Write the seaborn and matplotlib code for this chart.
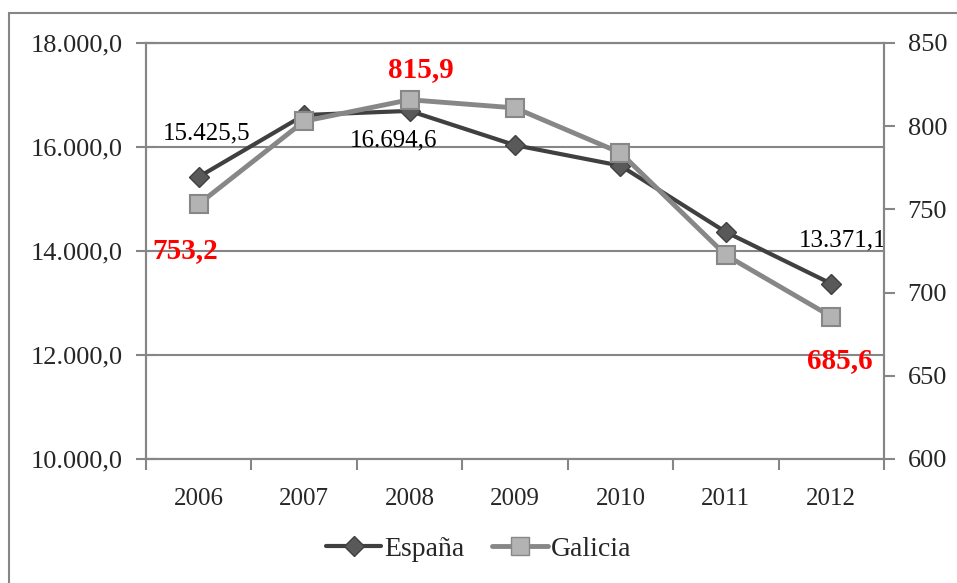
import numpy as np
import matplotlib
matplotlib.use("Agg")
import matplotlib.pyplot as plt
import seaborn as sns
from matplotlib.patches import Rectangle
from matplotlib.lines import Line2D
from matplotlib.ticker import FuncFormatter, FixedLocator

# Datos
anios = ["2006", "2007", "2008", "2009", "2010", "2011", "2012"]
espana = [15425.5, 16615.0, 16694.6, 16035.0, 15640.0, 14365.0, 13371.1]
galicia = [753.2, 803.0, 815.9, 811.0, 784.0, 722.5, 685.6]

# Etiquetas: (indice, texto, desplazamiento en px)
etiq_espana = [(0, "15.425,5", (8, 43)), (2, "16.694,6", (-16, -30)), (6, "13.371,1", (11, 43))]
etiq_galicia = [(0, "753,2", (-13, -46)), (2, "815,9", (11, 30)), (6, "685,6", (9, -44))]

sns.set_theme(style="white")
plt.rcParams["font.family"] = ["Liberation Serif", "DejaVu Serif"]

gris = "#868686"
fig = plt.figure(figsize=(9.57, 5.83), dpi=100)
ax = fig.add_axes([146 / 957, 1 - 459 / 583, (884 - 146) / 957, (459 - 43) / 583])
ax2 = ax.twinx()

x = np.arange(len(anios))
sns.lineplot(x=x, y=espana, ax=ax, color="#404040", lw=3, marker="D", markersize=10,
             markerfacecolor="#595959", markeredgecolor="#404040", markeredgewidth=1, zorder=3)
sns.lineplot(x=x, y=galicia, ax=ax2, color="#878787", lw=3.5, marker="s", markersize=13,
             markerfacecolor="#B3B3B3", markeredgecolor="#878787", markeredgewidth=1.5, zorder=3)

ax.set_xlim(-0.5, len(anios) - 0.5)
ax.set_ylim(10000, 18000)
ax2.set_ylim(600, 850)
ax.set_yticks([10000, 12000, 14000, 16000, 18000])
ax2.set_yticks([600, 650, 700, 750, 800, 850])
ax.yaxis.set_major_formatter(FuncFormatter(lambda v, p: f"{v:,.1f}".replace(",", "X").replace(".", ",").replace("X", ".")))
ax.set_xticks(x)
ax.set_xticklabels(anios)
ax.xaxis.set_minor_locator(FixedLocator(np.arange(-0.5, len(anios), 1.0)))

ax.grid(axis="y", color=gris, lw=1.5)
ax.set_axisbelow(True)
for a in (ax, ax2):
    for s in a.spines.values():
        s.set_color(gris)
        s.set_linewidth(1.5)
ax.tick_params(axis="y", which="major", direction="inout", length=14, width=1.5, color=gris,
               labelsize=19, pad=10, left=True)
ax.tick_params(axis="x", which="major", length=0, labelsize=18, pad=21)
ax.tick_params(axis="x", which="minor", direction="out", length=8, width=1.5, color=gris, bottom=True)
ax2.tick_params(axis="y", direction="out", length=8, width=1.5, color=gris, labelsize=19, pad=9, right=True)
ax.set_xlabel("")
ax.set_ylabel("")

for i, txt, off in etiq_espana:
    ax.annotate(txt, xy=(i, espana[i]), xytext=off, textcoords="offset pixels",
                ha="center", va="center", fontsize=18, color="black")
for i, txt, off in etiq_galicia:
    ax2.annotate(txt, xy=(i, galicia[i]), xytext=off, textcoords="offset pixels",
                 ha="center", va="center", fontsize=21, color="#FF0000", fontweight="bold")

handles = [
    Line2D([], [], color="#404040", lw=3, marker="D", markersize=10,
           markerfacecolor="#595959", markeredgecolor="#404040"),
    Line2D([], [], color="#878787", lw=3.5, marker="s", markersize=13,
           markerfacecolor="#B3B3B3", markeredgecolor="#878787"),
]
fig.legend(handles, ["España", "Galicia"], loc="center", bbox_to_anchor=(0.5, 1 - 549 / 583),
           ncol=2, frameon=False, fontsize=20, handlelength=2.0, handletextpad=0.1, columnspacing=1.0)

# Marco exterior del gráfico
fig.patches.append(Rectangle((9 / 957, -0.1), 1.2, 1.1 - 13 / 583, transform=fig.transFigure,
                             fill=False, edgecolor=gris, lw=1.5))

fig.savefig("out.png", dpi=100)
